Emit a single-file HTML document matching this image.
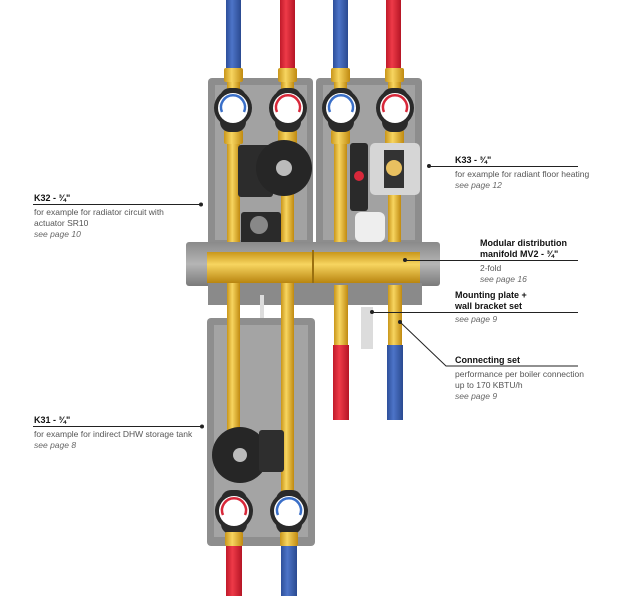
<!DOCTYPE html>
<html><head><meta charset="utf-8"><style>
body{margin:0;background:#fff;width:628px;height:598px;overflow:hidden;position:relative;font-family:"Liberation Sans",sans-serif}
.t{position:absolute;font-size:8.5px;color:#555;line-height:11px}
.t b{color:#111;font-size:9px}
.t i{color:#666}
svg{position:absolute;left:0;top:0}
</style></head><body>
<svg width="628" height="598">
<defs>
<linearGradient id="br" x1="0" x2="1"><stop offset="0" stop-color="#c9961a"/><stop offset=".4" stop-color="#f7d560"/><stop offset="1" stop-color="#c08a10"/></linearGradient>
<linearGradient id="brh" x1="0" y1="0" x2="0" y2="1"><stop offset="0" stop-color="#c9961a"/><stop offset=".4" stop-color="#f7d560"/><stop offset="1" stop-color="#b88510"/></linearGradient>
<linearGradient id="bl" x1="0" x2="1"><stop offset="0" stop-color="#2d4f9a"/><stop offset=".4" stop-color="#4d74c8"/><stop offset="1" stop-color="#2a4a90"/></linearGradient>
<linearGradient id="rd" x1="0" x2="1"><stop offset="0" stop-color="#c01a2a"/><stop offset=".4" stop-color="#ee3a48"/><stop offset="1" stop-color="#b51525"/></linearGradient>
<linearGradient id="gr" x1="0" y1="0" x2="0" y2="1"><stop offset="0" stop-color="#8a8a8a"/><stop offset=".5" stop-color="#b5b5b5"/><stop offset="1" stop-color="#7a7a7a"/></linearGradient>
</defs>
<rect x="226" y="0" width="15" height="80" fill="url(#bl)"/>
<rect x="280" y="0" width="15" height="80" fill="url(#rd)"/>
<rect x="333" y="0" width="15" height="80" fill="url(#bl)"/>
<rect x="386" y="0" width="15" height="80" fill="url(#rd)"/>
<rect x="208" y="78" width="105" height="170" rx="4" fill="#8d8d8d"/>
<rect x="316" y="78" width="106" height="170" rx="4" fill="#8d8d8d"/>
<rect x="215" y="85" width="92" height="155" fill="#a2a2a2"/>
<rect x="323" y="85" width="92" height="155" fill="#a2a2a2"/>
<rect x="227" y="75" width="13" height="180" fill="url(#br)"/>
<rect x="281" y="75" width="13" height="180" fill="url(#br)"/>
<rect x="334" y="75" width="13" height="180" fill="url(#br)"/>
<rect x="388" y="75" width="13" height="180" fill="url(#br)"/>
<g fill="url(#br)">
<rect x="224" y="68" width="19" height="14" rx="2"/><rect x="278" y="68" width="19" height="14" rx="2"/>
<rect x="331" y="68" width="19" height="14" rx="2"/><rect x="385" y="68" width="19" height="14" rx="2"/>
<rect x="224" y="130" width="19" height="14" rx="2"/><rect x="278" y="130" width="19" height="14" rx="2"/>
<rect x="331" y="130" width="19" height="14" rx="2"/><rect x="385" y="130" width="19" height="14" rx="2"/>
</g>
<g>
<rect x="220" y="88" width="26" height="44" rx="10" fill="#2a2a2a"/><circle cx="233" cy="108" r="19" fill="#2a2a2a"/><circle cx="233" cy="108" r="15" fill="#fff"/><path d="M222 112 A12 12 0 1 1 244 112" stroke="#3a6fc8" stroke-width="2.5" fill="none"/>
<rect x="275" y="88" width="26" height="44" rx="10" fill="#2a2a2a"/><circle cx="288" cy="108" r="19" fill="#2a2a2a"/><circle cx="288" cy="108" r="15" fill="#fff"/><path d="M277 112 A12 12 0 1 1 299 112" stroke="#d8283a" stroke-width="2.5" fill="none"/>
<rect x="328" y="88" width="26" height="44" rx="10" fill="#2a2a2a"/><circle cx="341" cy="108" r="19" fill="#2a2a2a"/><circle cx="341" cy="108" r="15" fill="#fff"/><path d="M330 112 A12 12 0 1 1 352 112" stroke="#3a6fc8" stroke-width="2.5" fill="none"/>
<rect x="382" y="88" width="26" height="44" rx="10" fill="#2a2a2a"/><circle cx="395" cy="108" r="19" fill="#2a2a2a"/><circle cx="395" cy="108" r="15" fill="#fff"/><path d="M384 112 A12 12 0 1 1 406 112" stroke="#d8283a" stroke-width="2.5" fill="none"/>
</g>
<rect x="238" y="145" width="35" height="52" rx="3" fill="#2c2c2c"/>
<circle cx="284" cy="168" r="28" fill="#262626"/>
<circle cx="284" cy="168" r="8" fill="#bbb"/>
<rect x="241" y="212" width="40" height="50" rx="3" fill="#2a2a2a"/>
<circle cx="259" cy="225" r="9" fill="#888"/>
<rect x="257" y="250" width="18" height="8" fill="#ddd"/>
<rect x="350" y="143" width="18" height="68" rx="3" fill="#2a2a2a"/>
<circle cx="359" cy="176" r="5" fill="#d8283a"/>
<rect x="370" y="143" width="50" height="52" rx="5" fill="#d6d6d6"/>
<rect x="384" y="150" width="20" height="38" fill="#333"/>
<circle cx="394" cy="168" r="8" fill="#e8c060"/>
<rect x="355" y="212" width="30" height="30" rx="6" fill="#eee"/>
<rect x="186" y="242" width="254" height="44" rx="3" fill="url(#gr)"/>
<rect x="207" y="252" width="213" height="31" fill="url(#brh)"/>
<line x1="313" y1="250" x2="313" y2="285" stroke="#9a7010" stroke-width="2"/>
<rect x="208" y="283" width="214" height="22" fill="#8a8a8a"/>
<rect x="334" y="285" width="14" height="60" fill="url(#br)"/>
<rect x="388" y="285" width="14" height="60" fill="url(#br)"/>
<rect x="333" y="345" width="16" height="75" fill="url(#rd)"/>
<rect x="387" y="345" width="16" height="75" fill="url(#bl)"/>
<rect x="361" y="307" width="12" height="42" fill="#dcdcdc"/>
<rect x="260" y="295" width="4" height="30" fill="#ddd"/>
<rect x="207" y="318" width="108" height="228" rx="4" fill="#8e8e8e"/>
<rect x="214" y="325" width="94" height="212" fill="#a4a4a4"/>
<rect x="227" y="283" width="13" height="150" fill="url(#br)"/>
<rect x="281" y="283" width="13" height="215" fill="url(#br)"/>
<circle cx="240" cy="455" r="28" fill="#262626"/>
<circle cx="240" cy="455" r="7" fill="#bbb"/>
<rect x="259" y="430" width="25" height="42" rx="3" fill="#2e2e2e"/>
<rect x="221" y="490" width="26" height="44" rx="10" fill="#2a2a2a"/><circle cx="234" cy="511" r="19" fill="#2a2a2a"/><circle cx="234" cy="511" r="15" fill="#fff"/><path d="M223 515 A12 12 0 1 1 245 515" stroke="#d8283a" stroke-width="2.5" fill="none"/>
<rect x="276" y="490" width="26" height="44" rx="10" fill="#2a2a2a"/><circle cx="289" cy="511" r="19" fill="#2a2a2a"/><circle cx="289" cy="511" r="15" fill="#fff"/><path d="M278 515 A12 12 0 1 1 300 515" stroke="#3a6fc8" stroke-width="2.5" fill="none"/>
<rect x="225" y="532" width="18" height="14" rx="2" fill="url(#br)"/>
<rect x="280" y="532" width="18" height="14" rx="2" fill="url(#br)"/>
<rect x="226" y="546" width="16" height="50" fill="url(#rd)"/>
<rect x="281" y="546" width="16" height="50" fill="url(#bl)"/>
<g stroke="#222" stroke-width="1" fill="#222">
<line x1="33" y1="204.5" x2="201" y2="204.5"/><circle cx="201" cy="204.5" r="1.5"/>
<line x1="33" y1="426.5" x2="202" y2="426.5"/><circle cx="202" cy="426.5" r="1.5"/>
<line x1="429" y1="166.5" x2="578" y2="166.5"/><circle cx="429" cy="166" r="1.5"/>
<line x1="405" y1="260.5" x2="578" y2="260.5"/><circle cx="405" cy="260" r="1.5"/>
<line x1="372" y1="312.5" x2="578" y2="312.5"/><circle cx="372" cy="312" r="1.5"/>
<polyline points="400,322 446,366 578,366" fill="none"/><circle cx="400" cy="322" r="1.5"/>
</g>
</svg>
<div class="t" style="left:34px;top:193px"><b>K32 - ¾"</b></div>
<div class="t" style="left:34px;top:207px">for example for radiator circuit with<br>actuator SR10<br><i>see page 10</i></div>
<div class="t" style="left:34px;top:415px"><b>K31 - ¾"</b></div>
<div class="t" style="left:34px;top:429px">for example for indirect DHW storage tank<br><i>see page 8</i></div>
<div class="t" style="left:455px;top:155px"><b>K33 - ¾"</b></div>
<div class="t" style="left:455px;top:169px">for example for radiant floor heating<br><i>see page 12</i></div>
<div class="t" style="left:480px;top:238px;line-height:11px"><b>Modular distribution<br>manifold MV2 - ¾"</b></div>
<div class="t" style="left:480px;top:263px">2-fold<br><i>see page 16</i></div>
<div class="t" style="left:455px;top:290px;line-height:11px"><b>Mounting plate +<br>wall bracket set</b></div>
<div class="t" style="left:455px;top:314px"><i>see page 9</i></div>
<div class="t" style="left:455px;top:355px"><b>Connecting set</b></div>
<div class="t" style="left:455px;top:369px">performance per boiler connection<br>up to 170 KBTU/h<br><i>see page 9</i></div>
</body></html>
